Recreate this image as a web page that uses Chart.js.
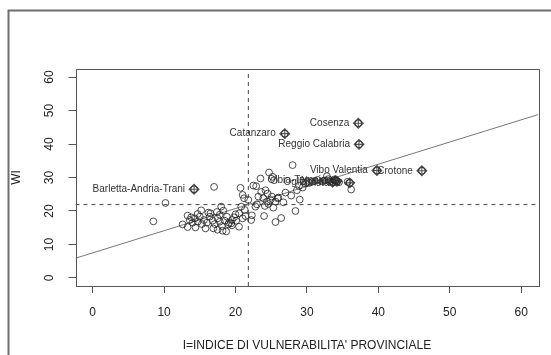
<!DOCTYPE html>
<html>
<head>
<meta charset="utf-8">
<script src="https://cdn.jsdelivr.net/npm/chart.js"></script>
<style>
  body { margin: 0; background: #fff; }
  #wrap { width: 551px; height: 355px; }
</style>
</head>
<body>
<div id="wrap"><canvas id="chart" width="551" height="355"></canvas></div>
<script>
// tutte le province (cerchi)
const provX = [8.5, 10.2, 17.0, 20.7, 22.5, 22.9, 23.5, 24.7, 25.2, 28.0, 27.8, 29.0, 28.4, 26.4, 25.6,
  24.0, 26.7, 25.3, 22.2, 22.3, 20.5, 18.2, 15.8, 16.9, 13.3, 12.6, 13.3, 15.2, 16.2, 18.0,
  18.3, 17.4, 19.4, 19.5, 20.5, 20.8, 21.2, 21.0, 21.8, 21.3, 23.2, 23.6, 24.2, 24.5, 23.9,
  24.4, 24.9, 24.1, 24.6, 25.6, 25.1, 25.9, 28.9, 29.4, 28.6, 29.8, 30.3, 32.8, 36.2, 35.7,
  22.8, 13.6, 14.0, 14.3, 14.7, 15.0, 15.3, 15.6, 16.0, 16.4, 16.8, 17.1, 17.5, 17.8, 18.1,
  18.5, 18.8, 19.1, 19.5, 19.8, 20.1, 21.0, 21.4, 14.4, 17.5, 18.7, 16.5, 17.8, 14.7, 13.8,
  25.4, 30.8, 31.5, 32.2, 33.0, 27.0, 26.0, 23.0, 20.0, 19.0, 32.5, 33.2, 33.8, 34.5, 33.0,
  14.2, 26.9, 37.2, 37.3, 39.8, 46.1, 34.0, 33.6, 34.2, 36.0];
const provY = [16.9, 22.4, 27.2, 26.9, 27.6, 27.4, 29.7, 31.5, 30.2, 33.7, 24.6, 23.4, 20.0, 17.9, 16.7,
  18.5, 22.6, 21.0, 17.3, 18.7, 15.3, 14.1, 14.8, 14.8, 15.2, 16.0, 18.6, 20.2, 19.5, 21.3,
  20.1, 19.7, 16.3, 17.3, 19.3, 21.3, 23.8, 24.8, 23.3, 20.3, 24.3, 25.7, 26.2, 25.2, 23.8,
  22.8, 23.3, 21.5, 22.1, 22.8, 24.3, 23.8, 27.5, 27.0, 26.2, 28.2, 28.4, 30.4, 26.4, 28.7,
  21.3, 17.3, 16.5, 17.8, 16.8, 18.3, 16.1, 17.3, 16.5, 18.3, 17.1, 16.1, 17.8, 16.8, 15.5,
  17.1, 18.3, 16.5, 15.7, 18.1, 17.1, 17.8, 18.5, 15.1, 14.4, 13.9, 19.3, 18.9, 19.1, 18.1,
  29.2, 28.8, 29.3, 28.9, 29.0, 25.5, 24.0, 22.0, 19.0, 16.0, 29.1, 28.7, 29.4, 28.6, 29.5,
  26.5, 43.1, 46.2, 39.9, 32.1, 32.0, 29.1, 28.6, 28.9, 28.4];

// province evidenziate
const evidX = [14.2, 26.9, 37.2, 37.3, 39.8, 46.1, 34.0, 33.6, 34.2, 36.0];
const evidY = [26.5, 43.1, 46.2, 39.9, 32.1, 32.0, 29.1, 28.6, 28.9, 28.4];
const evidNomi = ['Barletta-Andria-Trani', 'Catanzaro', 'Cosenza', 'Reggio Calabria', 'Vibo Valentia',
  'Crotone', 'Olbia-Tempio', 'Ogliastra', 'Nuoro', 'Oristano'];

// retta di regressione e medie
const rettaX = [-2.4, 62.4];
const rettaY = [5.9, 48.8];
const mediaX = 21.8;
const mediaY = 21.9;

const xTicks = [0, 10, 20, 30, 40, 50, 60];
const yTicks = [0, 10, 20, 30, 40, 50, 60];

const pts = (xs, ys) => xs.map((x, i) => ({ x: x, y: ys[i] }));

// testi disegnati a mano (stile R)
const testiR = {
  id: 'testiR',
  beforeDraw(chart) {
    const ctx = chart.ctx;
    ctx.save();
    ctx.strokeStyle = '#6e6e6e';
    ctx.lineWidth = 2;
    ctx.beginPath();
    ctx.moveTo(8.5, 355);
    ctx.lineTo(8.5, 10.5);
    ctx.lineTo(551, 10.5);
    ctx.stroke();
    ctx.restore();
  },
  afterDatasetsDraw(chart) {
    const ctx = chart.ctx;
    const a = chart.chartArea;
    const xs = chart.scales.x, ys = chart.scales.y;
    ctx.save();
    // etichette dei punti
    ctx.font = '10px "Liberation Sans", Arial, sans-serif';
    ctx.fillStyle = '#333';
    ctx.textAlign = 'right';
    ctx.textBaseline = 'middle';
    evidNomi.forEach((nome, i) => {
      ctx.fillText(nome, xs.getPixelForValue(evidX[i]) - 9, ys.getPixelForValue(evidY[i]));
    });
    // box
    ctx.strokeStyle = '#555';
    ctx.lineWidth = 1;
    ctx.strokeRect(Math.round(a.left) + 0.5, Math.round(a.top) + 0.5,
      Math.round(a.right - a.left), Math.round(a.bottom - a.top));
    // etichette assi
    ctx.font = '12px "Liberation Sans", Arial, sans-serif';
    ctx.fillStyle = '#222';
    ctx.textAlign = 'center';
    ctx.textBaseline = 'middle';
    xTicks.forEach(v => ctx.fillText(String(v), xs.getPixelForValue(v), 313));
    yTicks.forEach(v => {
      ctx.save();
      ctx.translate(50, ys.getPixelForValue(v));
      ctx.rotate(-Math.PI / 2);
      ctx.fillText(String(v), 0, 0);
      ctx.restore();
    });
    ctx.fillText("I=INDICE DI VULNERABILITA' PROVINCIALE", (a.left + a.right) / 2, 346);
    ctx.save();
    ctx.translate(17, (a.top + a.bottom) / 2);
    ctx.rotate(-Math.PI / 2);
    ctx.fillText('WI', 0, 0);
    ctx.restore();
    ctx.restore();
  }
};

new Chart(document.getElementById('chart'), {
  type: 'scatter',
  data: {
    datasets: [
      {
        data: pts(provX, provY),
        pointStyle: 'circle', pointRadius: 3.4,
        borderColor: '#222', borderWidth: 0.8, backgroundColor: 'rgba(0,0,0,0)'
      },
      {
        data: pts(evidX, evidY),
        pointStyle: 'rectRot', pointRadius: 4.8,
        borderColor: '#555', borderWidth: 1.3, backgroundColor: 'rgba(0,0,0,0)'
      },
      {
        data: pts(evidX, evidY),
        pointStyle: 'cross', pointRadius: 4.8,
        borderColor: '#555', borderWidth: 1.1
      },
      {
        type: 'line', data: pts(rettaX, rettaY),
        borderColor: '#777', borderWidth: 1, pointRadius: 0, fill: false
      },
      {
        type: 'line', data: pts([mediaX, mediaX], [-2.4, 62.4]),
        borderColor: '#444', borderWidth: 1, borderDash: [4, 4], pointRadius: 0, fill: false
      },
      {
        type: 'line', data: pts([-2.4, 62.4], [mediaY, mediaY]),
        borderColor: '#444', borderWidth: 1, borderDash: [4, 4], pointRadius: 0, fill: false
      }
    ]
  },
  options: {
    responsive: false,
    animation: false,
    devicePixelRatio: 1,
    layout: { padding: { top: 69, right: 12.7, left: 0, bottom: 0 } },
    plugins: { legend: { display: false }, tooltip: { enabled: false } },
    scales: {
      x: {
        type: 'linear', min: -2.4, max: 62.4,
        afterBuildTicks: s => { s.ticks = xTicks.map(v => ({ value: v })); },
        afterFit: s => { s.height = 69; },
        ticks: { color: 'rgba(0,0,0,0)' },
        grid: { drawOnChartArea: false, drawTicks: true, tickLength: 7, color: '#555' },
        border: { display: false }
      },
      y: {
        type: 'linear', min: -2.4, max: 62.4,
        afterBuildTicks: s => { s.ticks = yTicks.map(v => ({ value: v })); },
        afterFit: s => { s.width = 75.5; },
        ticks: { color: 'rgba(0,0,0,0)' },
        grid: { drawOnChartArea: false, drawTicks: true, tickLength: 7, color: '#555' },
        border: { display: false }
      }
    }
  },
  plugins: [testiR]
});
</script>
</body>
</html>
